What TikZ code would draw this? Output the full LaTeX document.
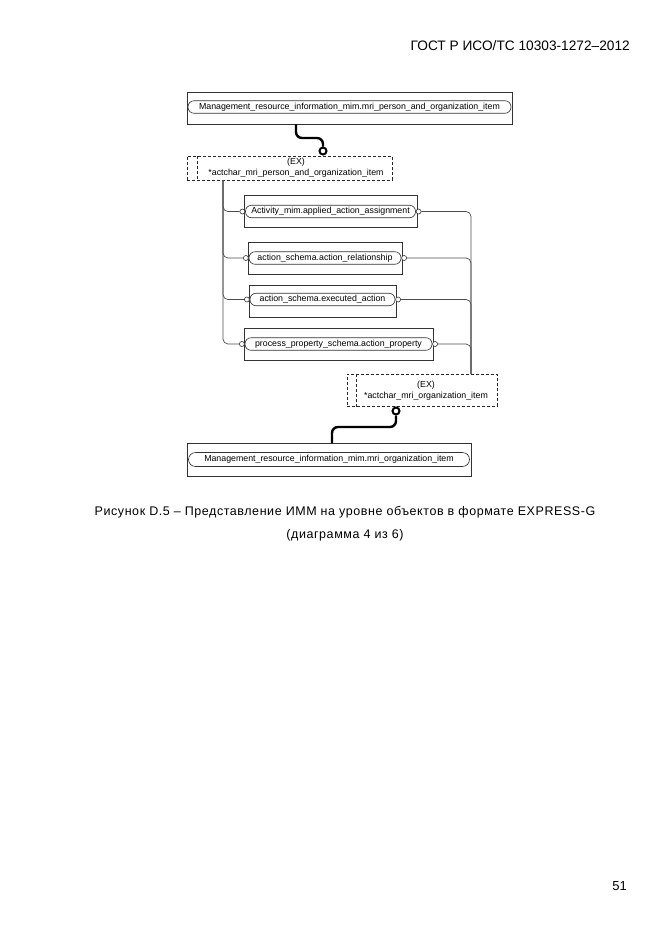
\documentclass[tikz,border=0pt]{standalone}
\usepackage{fontspec}
\setmainfont{Liberation Sans}
\newfontfamily\capfont[LetterSpace=4.5]{Liberation Sans}
\usetikzlibrary{calc}
\begin{document}
\begin{tikzpicture}[x=1pt,y=-1pt,
  ent/.style={draw=black!80, line width=0.7pt, minimum height=32pt, inner sep=0pt, anchor=north west},
  pill/.style={draw=black!80, line width=0.6pt, rounded corners=6pt, minimum height=12.5pt, inner sep=0pt, font=\fontsize{8.8}{10}\selectfont},
  exbox/.style={draw=black!85, dash pattern=on 3pt off 2pt, line width=0.7pt},
  extext/.style={font=\fontsize{8.8}{10}\selectfont, inner sep=0pt},
  conn/.style={draw=black!70, line width=0.7pt, rounded corners=5pt},
  fatline/.style={draw=black, line width=2.4pt, rounded corners=6pt},
  ring/.style={circle, draw=black!80, line width=0.6pt, minimum size=5pt, inner sep=0pt, fill=white},
  bigring/.style={circle, draw=black, line width=2pt, minimum size=7pt, inner sep=0pt, fill=white},
  plain/.style={inner sep=0pt}
]
\useasboundingbox (0,0) rectangle (661,935);

% header and page number
\node[plain, anchor=east, font=\fontsize{13.7}{15}\selectfont] (hdr) at (630,46) {ГОСТ Р ИСО/ТС 10303-1272–2012};
\node[plain, anchor=east, font=\fontsize{13}{15}\selectfont] (pg) at (627,886) {51};

% top entity
\node[ent, minimum width=325pt] (b1) at (187,92) {};
\node[pill, minimum width=323pt] (p1) at (349.5,107) {Management\_resource\_information\_mim.mri\_person\_and\_organization\_item};

% EX 1
\node[exbox, ent, draw=black!85, minimum width=205pt, minimum height=24pt] (ex1) at (187,156) {};
\draw[exbox] ($(ex1.north west)+(10,0)$) -- ($(ex1.south west)+(10,0)$);
\node[extext] (ex1a) at (296,162.5) {(EX)};
\node[extext] (ex1b) at (296,173.5) {*actchar\_mri\_person\_and\_organization\_item};

% middle entities
\node[ent, minimum width=173pt] (b2) at (244,195) {};
\node[pill, minimum width=170pt] (p2) at (330.5,211.5) {Activity\_mim.applied\_action\_assignment};
\node[ent, minimum width=154pt] (b3) at (248,242) {};
\node[pill, minimum width=152pt] (p3) at (325,258) {action\_schema.action\_relationship};
\node[ent, minimum width=147pt] (b4) at (249,285) {};
\node[pill, minimum width=145pt] (p4) at (322.5,299.5) {action\_schema.executed\_action};
\node[ent, minimum width=189pt] (b5) at (244,328) {};
\node[pill, minimum width=187pt] (p5) at (338.5,344) {process\_property\_schema.action\_property};

% rings at pill ends
\foreach \i in {2,3,4,5}{
  \node[ring, anchor=east] (l\i) at (p\i.west) {};
  \node[ring, anchor=west] (r\i) at (p\i.east) {};
}

% EX 2
\node[exbox, ent, draw=black!85, minimum width=150pt, minimum height=32pt] (ex2) at (347,374) {};
\draw[exbox] ($(ex2.north west)+(9,0)$) -- ($(ex2.south west)+(9,0)$);
\node[extext] (ex2a) at (426,385) {(EX)};
\node[extext] (ex2b) at (426,396) {*actchar\_mri\_organization\_item};

% bottom entity
\node[ent, minimum width=284pt, minimum height=33pt] (b6) at (187,443) {};
\node[pill, minimum width=281pt, minimum height=14pt, rounded corners=7pt] (p6) at (329,459.5) {Management\_resource\_information\_mim.mri\_organization\_item};

% left trunk
\coordinate (lt) at (223,180);
\foreach \i in {2,3,4,5}{
  \draw[conn] (lt) |- (l\i.west);
}
% right trunk
\coordinate (rt) at (471,374);
\foreach \i in {2,3,4,5}{
  \draw[conn] (r\i.east) -| (rt);
}

% thick connectors
\node[bigring] (c1) at (323,151) {};
\coordinate (s1) at (296,124);
\draw[fatline] (s1) -- (296,138) -- (323,138) -- (c1.north);
\node[bigring] (c2) at (396,411) {};
\coordinate (s2) at (332,443);
\draw[fatline] (c2.south) -- (396,427) -- (332,427) -- (s2);

% caption
\node[plain, font=\capfont\fontsize{12.5}{15}\selectfont] (cap1) at (345,512) {Рисунок D.5 – Представление ИММ на уровне объектов в формате EXPRESS-G};
\node[plain, font=\capfont\fontsize{12.5}{15}\selectfont] (cap2) at (345,535) {(диаграмма 4 из 6)};
\end{tikzpicture}
\end{document}
